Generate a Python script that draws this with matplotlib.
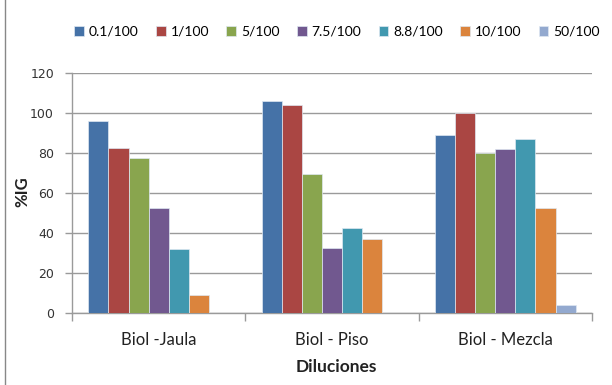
import numpy as np
import matplotlib
matplotlib.use("Agg")
import matplotlib.pyplot as plt
from matplotlib.lines import Line2D

categories = ["Biol -Jaula", "Biol - Piso", "Biol - Mezcla"]
series_names = ["0.1/100", "1/100", "5/100", "7.5/100", "8.8/100", "10/100", "50/100"]
values = {
    "0.1/100": [96, 106, 88.8],
    "1/100": [82.5, 103.8, 100.2],
    "5/100": [77.5, 69.7, 79.8],
    "7.5/100": [52.7, 32.7, 81.8],
    "8.8/100": [31.8, 42.7, 86.8],
    "10/100": [9.2, 36.8, 52.7],
    "50/100": [0, 0, 4.2],
}
colors = ["#4572A7", "#AA4643", "#89A54E", "#71588F", "#4198AF", "#DB843D", "#93A9CF"]

font = ["Lato", "DejaVu Sans"]
fig = plt.figure(figsize=(6.12, 3.85), dpi=100)
ax = fig.add_axes([72 / 612, 1 - 313 / 385, 520 / 612, 240 / 385])

n = len(series_names)
bw = 0.116
x = np.arange(len(categories))
for i, (name, c) in enumerate(zip(series_names, colors)):
    offs = (i - (n - 1) / 2) * bw
    ax.bar(x + offs, values[name], width=bw, color=c, edgecolor="#dfe8f2",
           linewidth=0.5, label=name, zorder=3)

ax.set_xlim(-0.5, 2.5)
ax.set_ylim(0, 120)
ax.set_yticks(np.arange(0, 121, 20))
ax.yaxis.grid(True, color="#9a9a9a", linewidth=1.0, zorder=0)
for s in ["top", "right"]:
    ax.spines[s].set_visible(False)
for s in ["left", "bottom"]:
    ax.spines[s].set_color("#9a9a9a")
    ax.spines[s].set_linewidth(1.0)

ax.set_xticks(x)
ax.set_xticklabels(categories, family=font, fontsize=12, color="#222222")
ax.tick_params(axis="x", length=0, pad=14)
ax.set_xticks([-0.5, 0.5, 1.5, 2.5], minor=True)
ax.tick_params(axis="x", which="minor", length=6, color="#9a9a9a", width=1.0)
ax.tick_params(axis="y", length=5, color="#9a9a9a", width=1.0, labelsize=9, labelcolor="#333333", pad=8)
for lab in ax.get_yticklabels():
    lab.set_family("DejaVu Sans")

fig.text(336 / 612, 1 - 367 / 385, "Diluciones", family=font, fontsize=12.5, fontweight="bold",
         ha="center", va="center", color="#222222")
fig.text(22 / 612, 1 - 192 / 385, "%IG", family=font, fontsize=12, fontweight="bold",
         ha="center", va="center", rotation=90, color="#222222")

ax.legend(loc="center", bbox_to_anchor=(337 / 612, 1 - 32 / 385), bbox_transform=fig.transFigure,
          ncol=n, frameon=False, handlelength=0.7, handleheight=0.7, handletextpad=0.35,
          columnspacing=1.25, prop={"family": font, "size": 10})

fig.add_artist(Line2D([5 / 612, 5 / 612], [0, 1], transform=fig.transFigure, color="#888888", linewidth=1.0))

fig.savefig("out.png", dpi=100)
